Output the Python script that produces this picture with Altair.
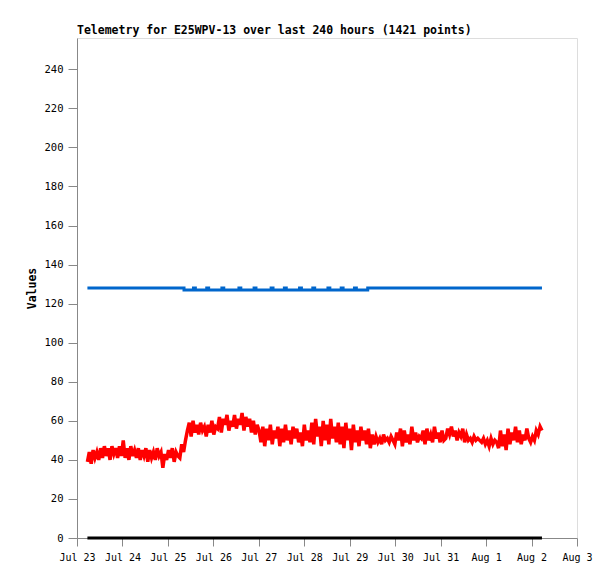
import altair as alt
import pandas as pd

# Red series, roughly hourly readings
red_vals = [
    39, 44, 38, 45, 41, 44, 40, 46,
    41, 47, 42, 46, 40, 47, 43, 46, 41, 47, 42, 50, 41, 46, 40, 47, 42, 45, 41, 46,
    40, 45, 42, 46, 39, 45, 41, 44, 40, 46, 42, 44, 36, 43, 40, 45, 41, 46, 39, 44, 42,
    41, 48, 44, 50,
    55, 59, 52, 60, 54, 58, 53, 59, 55, 57, 52, 58, 54, 60, 53, 57,
    56, 62, 54, 61, 58, 63, 55, 60, 57, 63, 56, 61,
    58, 64, 55, 62, 57, 61, 54, 60, 53, 58, 55,
    49, 57, 47, 56, 50, 58, 48, 55, 51, 57, 47, 56, 49, 58, 50, 55, 48, 57, 51, 56, 49, 54, 47, 58, 50, 55,
    49, 59, 48, 61, 52, 57, 47, 60, 50, 58, 48, 61, 51, 57, 49, 59,
    48, 57, 46, 59, 50, 56, 45, 58, 49, 55, 47, 57, 50, 55, 48, 56,
    46, 53, 48, 52, 49, 51, 48, 53, 50, 51, 49, 52, 50,
    48, 54, 50, 56, 47, 55, 49, 53, 48, 57, 50, 54, 49, 52, 51, 55, 48, 56, 50, 53, 49, 57, 51, 54, 49, 55, 50,
    51, 56, 53, 57, 52, 55, 50, 54, 52, 56, 49, 53, 50, 51, 49, 52, 50, 51, 50,
    49, 51, 48, 50, 47, 51, 48, 50, 49,
    46, 55, 47, 53, 45, 56, 48, 54, 50, 57, 49, 55, 48, 53, 50, 56, 51,
    49, 52, 50, 55, 53, 57, 55,
]

# Blue series: change points (hours from start) and values
blue_hours = [0, 51, 56, 57, 63, 64, 71, 72, 80, 81, 88, 89, 97, 98, 104, 105,
              112, 113, 119, 120, 127, 128, 134, 135, 141, 142, 148, 240]
blue_vals = [128, 127, 128, 127, 128, 127, 128, 127, 128, 127, 128, 127, 128, 127, 128, 127,
             128, 127, 128, 127, 128, 127, 128, 127, 128, 127, 128, 128]

# Black series at zero
black_hours = [0, 240]
black_vals = [0, 0]

start = pd.Timestamp("2025-07-23 05:30")
end = pd.Timestamp("2025-08-02 05:30")

red_df = pd.DataFrame({
    "t": pd.date_range(start, end, periods=len(red_vals)),
    "v": red_vals,
})
blue_df = pd.DataFrame({
    "t": [start + pd.Timedelta(hours=h) for h in blue_hours],
    "v": blue_vals,
})
black_df = pd.DataFrame({
    "t": [start + pd.Timedelta(hours=h) for h in black_hours],
    "v": black_vals,
})

x_ticks = [pd.Timestamp(f"2025-07-{d} 00:00").isoformat() for d in range(23, 32)] + \
          [pd.Timestamp(f"2025-08-0{d} 00:00").isoformat() for d in range(1, 4)]

MONO = "DejaVu Sans Mono"

xenc = alt.X(
    "t:T",
    scale=alt.Scale(domain=["2025-07-23T00:00:00", "2025-08-03T00:00:00"], nice=False),
    axis=alt.Axis(values=x_ticks, format="%b %-d", title=None, grid=False,
                  labelFlush=False, labelOverlap=False, labelPadding=6,
                  labelFont=MONO, labelFontSize=10, tickSize=8),
)
yenc = alt.Y(
    "v:Q",
    scale=alt.Scale(domain=[0, 256], nice=False),
    axis=alt.Axis(values=list(range(0, 241, 20)), title="Values", grid=False,
                  titleFontWeight="bold", titlePadding=7, labelPadding=5,
                  labelFont=MONO, labelFontSize=10.5, tickSize=9,
                  titleFont=MONO, titleFontSize=11.5),
)

black = alt.Chart(black_df).mark_line(color="#000000", strokeWidth=3).encode(x=xenc, y=yenc)
blue = alt.Chart(blue_df).mark_line(color="#0066cc", strokeWidth=3, interpolate="step-after").encode(x=xenc, y=yenc)
red = alt.Chart(red_df).mark_line(color="#ff0000", strokeWidth=3.5).encode(x=xenc, y=yenc)

chart = alt.layer(black, blue, red).properties(
    width=500,
    height=500,
    title=alt.TitleParams(
        "Telemetry for E25WPV-13 over last 240 hours (1421 points)",
        anchor="start", frame="group", font=MONO, fontSize=11.5,
        fontWeight="bold", color="#000000", offset=2,
    ),
    autosize=alt.AutoSizeParams(type="none"),
    padding={"left": 69, "top": 30, "right": 30, "bottom": 33},
).configure_view(
    stroke="#444444", strokeWidth=1
).configure_axis(
    domainColor="#000000", tickColor="#000000", labelColor="#000000",
    titleColor="#000000", domainWidth=1,
).configure(background="#ffffff")

chart.save("out.html", embed_options={"renderer": "svg", "actions": False})
